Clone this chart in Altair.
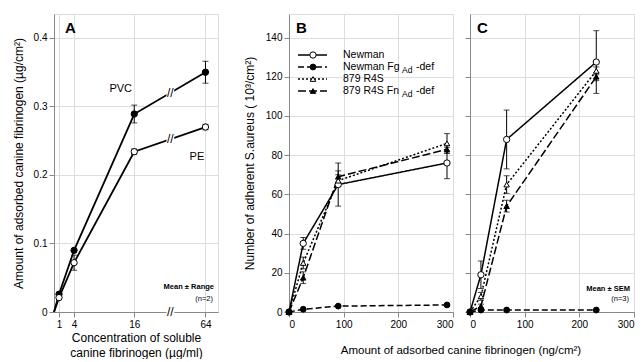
import altair as alt
import pandas as pd

# ---------------- data ----------------
# Panel A: adsorbed fibrinogen vs soluble concentration
conc = [0, 1, 4, 16, 64]
pvc = [0, 0.026, 0.090, 0.289, 0.350]
pvc_err = [0, 0, 0, 0.013, 0.016]
pe = [0, 0.021, 0.072, 0.234, 0.270]
pe_err = [0, 0, 0.011, 0.004, 0.004]
a_xticks = [1, 4, 16, 64]
a_yticks = [0, 0.1, 0.2, 0.3, 0.4]

# Panel B
b_x = [0, 26, 90, 289]
b_newman = [0, 35, 65, 76]
b_newman_err = [0, 3, 11, 8]
b_fgdef = [0, 1.4, 3.0, 3.6]
b_fgdef_err = [0, 0, 0, 0]
b_r4s = [0, 25, 67, 86]
b_r4s_err = [0, 3, 3, 5]
b_fnad = [0, 17.5, 69, 83]
b_fnad_err = [0, 3, 3, 2]

# Panel C
c_x = [0, 20, 67, 231]
c_newman = [0, 19, 88, 127.5]
c_newman_err = [0, 7, 15, 16]
c_fgdef = [0, 1, 1, 1]
c_fgdef_err = [0, 0, 0, 0]
c_r4s = [0, 8, 65, 123]
c_r4s_err = [0, 2, 4.5, 2]
c_fnad = [0, 3, 54, 120]
c_fnad_err = [0, 1, 3, 2]

series = ["Newman", "Newman FgAd-def", "879 R4S", "879 R4S FnAd-def"]
leg_main = ["Newman", "Newman Fg", "879 R4S", "879 R4S Fn"]
leg_sub = ["", "Ad", "", "Ad"]
leg_suffix = ["", "-def", "", "-def"]
bc_xticks = [0, 100, 200, 300]
bc_yticks = [0, 20, 40, 60, 80, 100, 120, 140]

# ---------------- style ----------------
FONT = "Liberation Sans"
W, H = 164, 298
POS64 = 30.2      # display position of the 64 tick after the axis break
BRK = 23.2        # display position of the break marks
A_XDOM = [0, 32.7]
A_YDOM = [0, 0.435]
BC_XDOM = [0, 300]
BC_YDOM = [0, 152]
dashes = [[1, 0], [6, 3], [2, 2], [8, 3]]
shapes = ["circle", "circle", "triangle-up", "triangle-up"]
fills = ["white", "black", "white", "black"]
sizes = [40, 34, 30, 30]
style = {s: (dashes[i], shapes[i], fills[i], sizes[i]) for i, s in enumerate(series)}

TITLE_KW = dict(titleFont=FONT, titleFontSize=12, titleFontWeight="normal", titleColor="black")

# ---------------- panel A ----------------
posmap = {0: 0, 1: 1, 4: 4, 16: 16, 64: POS64}
rows = []
for mat, ys, es, fc in [("PVC", pvc, pvc_err, "black"), ("PE", pe, pe_err, "white")]:
    for c, y, e in zip(conc, ys, es):
        rows.append({"mat": mat, "pos": posmap[c], "y": y, "err": e,
                     "lo": y - e, "hi": y + e, "fc": fc})
dfa = pd.DataFrame(rows)
brk_rows = []
for ys in [pvc, pe]:
    frac = (BRK - 16) / (POS64 - 16)
    brk_rows.append({"pos": BRK, "y": ys[3] + frac * (ys[4] - ys[3])})
brk_rows.append({"pos": BRK, "y": 0})
dfbrk = pd.DataFrame(brk_rows)

ax_x = alt.X("pos:Q", scale=alt.Scale(domain=A_XDOM, nice=False),
             axis=alt.Axis(values=[posmap[v] for v in a_xticks],
                           labelExpr="datum.value > 20 ? '64' : format(datum.value, 'd')",
                           title=["Concentration of soluble", "canine fibrinogen (µg/ml)"],
                           titlePadding=3, titleLineHeight=15, **TITLE_KW))
ax_y = alt.Y("y:Q", scale=alt.Scale(domain=A_YDOM, nice=False),
             axis=alt.Axis(values=a_yticks,
                           labelExpr="datum.value == 0 ? '0' : format(datum.value, '.1f')",
                           title="Amount of adsorbed canine fibrinogen (µg/cm²)",
                           titlePadding=8, **TITLE_KW))

baseA = alt.Chart(dfa)
lineA = baseA.mark_line(color="black", strokeWidth=1.8).encode(x=ax_x, y=ax_y, detail="mat:N")
errA = baseA.transform_filter("datum.err > 0")
ruleA = errA.mark_rule(color="black", strokeWidth=1).encode(x="pos:Q", y="lo:Q", y2="hi:Q")
capA1 = errA.mark_tick(orient="horizontal", color="black", size=6, thickness=1).encode(x="pos:Q", y="lo:Q")
capA2 = errA.mark_tick(orient="horizontal", color="black", size=6, thickness=1).encode(x="pos:Q", y="hi:Q")
ptA = baseA.transform_filter("datum.pos > 0").mark_point(
    filled=True, shape="circle", size=40, stroke="black", strokeWidth=1, opacity=1
).encode(x="pos:Q", y="y:Q", fill=alt.Fill("fc:N", scale=None))
brkBase = alt.Chart(dfbrk)
brkSq = brkBase.mark_point(shape="square", filled=True, color="white", size=60, opacity=1).encode(x="pos:Q", y="y:Q")
brkTx = brkBase.mark_text(text="//", font=FONT, fontSize=12, color="black", baseline="middle").encode(x="pos:Q", y="y:Q")

lblA = alt.Chart(pd.DataFrame({"pos": [13.3, 28.5], "y": [0.326, 0.226], "t": ["PVC", "PE"]})).mark_text(
    font=FONT, fontSize=11, color="black").encode(x="pos:Q", y="y:Q", text="t:N")


def note(txt, x, y, size=8, weight="normal", align="left", baseline="alphabetic"):
    return alt.Chart(pd.DataFrame({"t": [txt]})).mark_text(
        font=FONT, fontSize=size, fontWeight=weight, align=align, baseline=baseline,
        color="black").encode(x=alt.value(x), y=alt.value(y), text="t:N")


panelA = alt.layer(
    lineA, ruleA, capA1, capA2, ptA, brkSq, brkTx, lblA,
    note("A", 11, 19, size=15, weight="bold"),
    note("Mean ± Range", 160, 275, size=7.5, weight="bold", align="right"),
    note("(n=2)", 159, 287, size=7.5, align="right"),
).properties(width=W, height=H)

# ---------------- panels B and C ----------------


def make_df(xs, groups):
    rr = []
    for s, ys, es in groups:
        d, sh, fc, sz = style[s]
        for x, y, e in zip(xs, ys, es):
            rr.append({"series": s, "x": x, "y": y, "err": e, "lo": y - e, "hi": y + e,
                       "shape": sh, "fc": fc, "sz": sz})
    return pd.DataFrame(rr)


dfb = make_df(b_x, [(series[0], b_newman, b_newman_err), (series[1], b_fgdef, b_fgdef_err),
                    (series[2], b_r4s, b_r4s_err), (series[3], b_fnad, b_fnad_err)])
dfc = make_df(c_x, [(series[0], c_newman, c_newman_err), (series[1], c_fgdef, c_fgdef_err),
                    (series[2], c_r4s, c_r4s_err), (series[3], c_fnad, c_fnad_err)])


def panel(df, letter, xaxis, yaxis, extra):
    base = alt.Chart(df)
    xq = alt.X("x:Q", scale=alt.Scale(domain=BC_XDOM, nice=False), axis=xaxis)
    yq = alt.Y("y:Q", scale=alt.Scale(domain=BC_YDOM, nice=False), axis=yaxis)
    lines = []
    for s in series:
        lines.append(base.transform_filter(alt.datum.series == s).mark_line(
            color="black", strokeWidth=1.5, strokeDash=style[s][0]).encode(x=xq, y=yq))
    err = base.transform_filter("datum.err > 0")
    rule = err.mark_rule(color="black", strokeWidth=1).encode(x="x:Q", y="lo:Q", y2="hi:Q")
    cap1 = err.mark_tick(orient="horizontal", color="black", size=6, thickness=1).encode(x="x:Q", y="lo:Q")
    cap2 = err.mark_tick(orient="horizontal", color="black", size=6, thickness=1).encode(x="x:Q", y="hi:Q")
    pts = base.mark_point(filled=True, stroke="black", strokeWidth=1, opacity=1).encode(
        x="x:Q", y="y:Q",
        shape=alt.Shape("shape:N", scale=None),
        fill=alt.Fill("fc:N", scale=None),
        size=alt.Size("sz:Q", scale=None))
    return alt.layer(*lines, rule, cap1, cap2, pts, note(letter, 7, 19, size=15, weight="bold"),
                     *extra).properties(width=W, height=H)


legend_layers = []
for i, s in enumerate(series):
    yy = 41 + 12 * i
    one = alt.Chart(pd.DataFrame({"s": [s]}))
    legend_layers.append(one.mark_rule(color="black", strokeWidth=1.5, strokeDash=dashes[i]).encode(
        x=alt.value(9), x2=alt.value(38), y=alt.value(yy)))
    legend_layers.append(one.mark_point(filled=True, shape=shapes[i], fill=fills[i], stroke="black",
                                        strokeWidth=1, size=sizes[i], opacity=1).encode(
        x=alt.value(24), y=alt.value(yy)))
    legend_layers.append(note(leg_main[i], 54, yy, size=10.5, baseline="middle"))
    if leg_sub[i]:
        legend_layers.append(note(leg_sub[i], 113, yy + 3, size=8.5, baseline="middle"))
        legend_layers.append(note(leg_suffix[i], 127, yy, size=10.5, baseline="middle"))

# shared x-axis title of panels B and C
legend_layers.append(note("Amount of adsorbed canine fibrinogen (ng/cm²)", 172, H + 42,
                          size=11.5, align="center"))

panelB = panel(
    dfb, "B",
    alt.Axis(values=bc_xticks, title=None),
    alt.Axis(values=bc_yticks, title="Number of adherent S.aureus ( 10³/cm²)", titlePadding=9, **TITLE_KW),
    legend_layers)

panelC = panel(
    dfc, "C",
    alt.Axis(values=bc_xticks, title=None),
    alt.Axis(values=bc_yticks, labels=False, title=None),
    [note("Mean ± SEM", 160, 277, size=7.5, weight="bold", align="right"),
     note("(n=3)", 159, 287, size=7.5, align="right")])

inner = alt.hconcat(panelB, panelC, spacing=17, bounds="flush")
chart = alt.hconcat(panelA, inner, spacing=71, bounds="flush").properties(
    padding={"left": 3, "top": 5, "right": 0, "bottom": 0}
).configure_view(stroke="black", strokeWidth=1.2).configure_axis(
    grid=False, domainColor="black", tickColor="black", tickSize=4, labelPadding=2,
    labelFont=FONT, labelFontSize=10, labelColor="black",
    titleFont=FONT, titleFontSize=12, titleFontWeight="normal", titleColor="black",
).configure(font=FONT, background="white")

chart.save("out.html", embed_options={"renderer": "svg", "actions": False})
